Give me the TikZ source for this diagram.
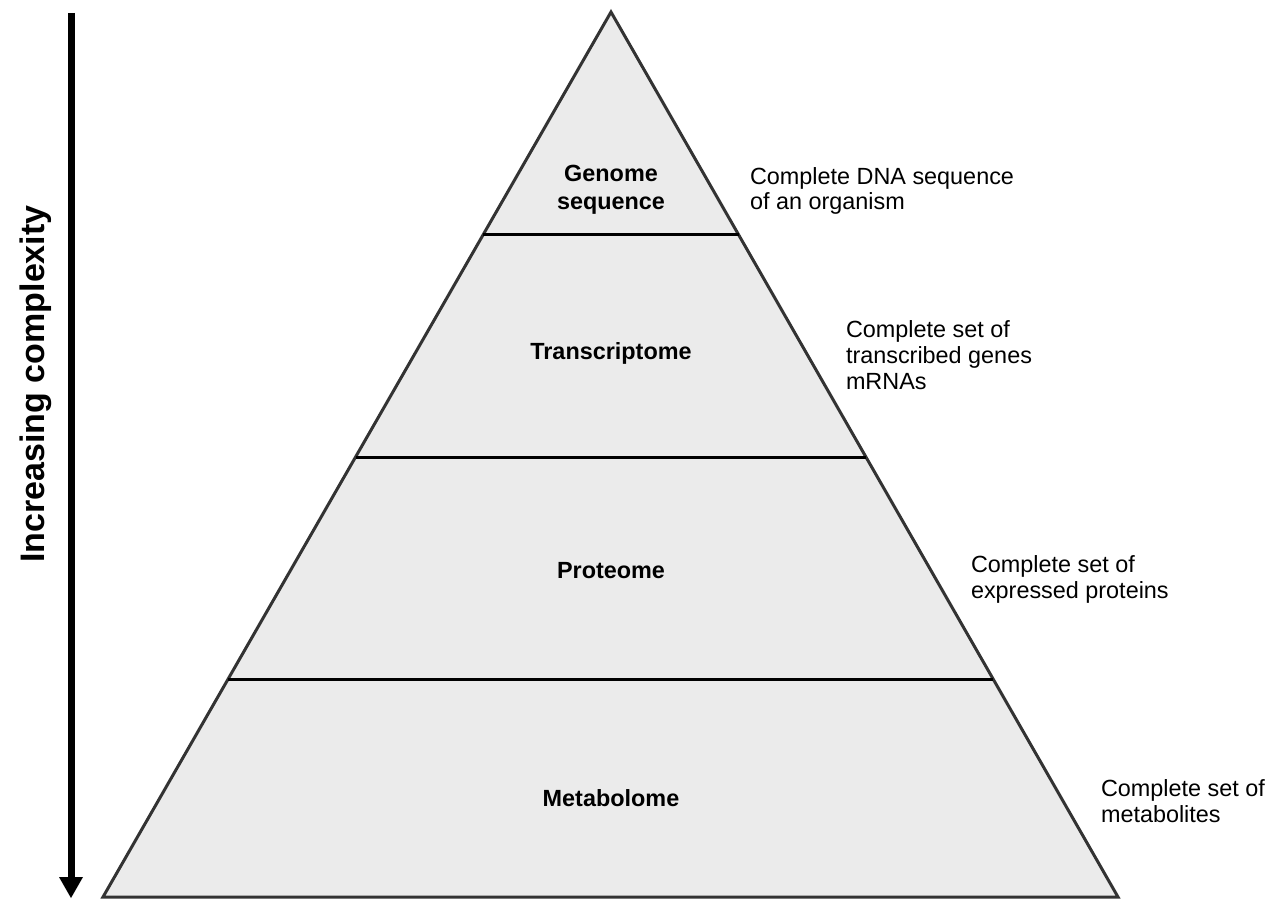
\documentclass[tikz,border=0pt]{standalone}
\usepackage{fontspec}
\setmainfont{Liberation Sans}

\newlength{\du}
\setlength{\du}{0.5pt}

\tikzset{
  layerlabel/.style={anchor=base,align=center,inner sep=0pt,outer sep=0pt,
    font=\fontsize{11.7}{14}\selectfont\bfseries},
  notelabel/.style={anchor=base west,align=left,inner sep=0pt,outer sep=0pt,
    font=\fontsize{11.7}{13}\selectfont},
}

\begin{document}
\begin{tikzpicture}[even odd rule]
\pgftransformxscale{1.000000}
\pgftransformyscale{-1.000000}
\useasboundingbox (0\du,0\du) rectangle (1265\du,899\du);
\definecolor{dialinecolor}{rgb}{0.200000, 0.200000, 0.200000}
\definecolor{diafillcolor}{rgb}{0.921569, 0.921569, 0.921569}
\pgfsetmiterjoin
\pgfsetbuttcap
% pyramid
\coordinate (apex) at (611\du,12\du);
\coordinate (baseright) at (1118\du,897\du);
\coordinate (baseleft) at (103\du,897\du);
\draw[line width=3\du,draw=dialinecolor,fill=diafillcolor] (apex)--(baseright)--(baseleft)--cycle;
% layer lines
\definecolor{dialinecolor}{rgb}{0.000000, 0.000000, 0.000000}
\draw[line width=3\du,draw=dialinecolor] (483\du,235\du)--(739\du,235\du);
\draw[line width=3\du,draw=dialinecolor] (356\du,457\du)--(866\du,457\du);
\draw[line width=3\du,draw=dialinecolor] (228\du,679\du)--(993\du,679\du);
% layer names (base = last line)
\node[layerlabel] (genome) at (611\du,210\du){Genome\\sequence};
\node[layerlabel] (transcriptome) at (611\du,359\du){Transcriptome};
\node[layerlabel] (proteome) at (611\du,578\du){Proteome};
\node[layerlabel] (metabolome) at (611\du,806\du){Metabolome};
% notes
\node[notelabel] (genomenote) at (750\du,210\du){Complete DNA sequence\\of an organism};
\node[notelabel] (transcriptomenote) at (846\du,389\du){Complete set of\\transcribed genes\\mRNAs};
\node[notelabel] (proteomenote) at (971\du,598\du){Complete set of\\expressed proteins};
\node[notelabel] (metabolomenote) at (1101\du,822\du){Complete set of\\metabolites};
% complexity arrow
\coordinate (arrowtop) at (71\du,13\du);
\coordinate (arrowtip) at (71\du,898\du);
\draw[line width=7\du,draw=dialinecolor] (arrowtop)--++(0,866\du);
\fill[fill=dialinecolor] (arrowtip)--++(-12\du,-21\du)--++(24\du,0)--cycle;
\node[rotate=90,anchor=base,inner sep=0pt,outer sep=0pt,font=\fontsize{17}{20}\selectfont\bfseries] (complexity) at (45\du,384\du){Increasing complexity};
\end{tikzpicture}
\end{document}
